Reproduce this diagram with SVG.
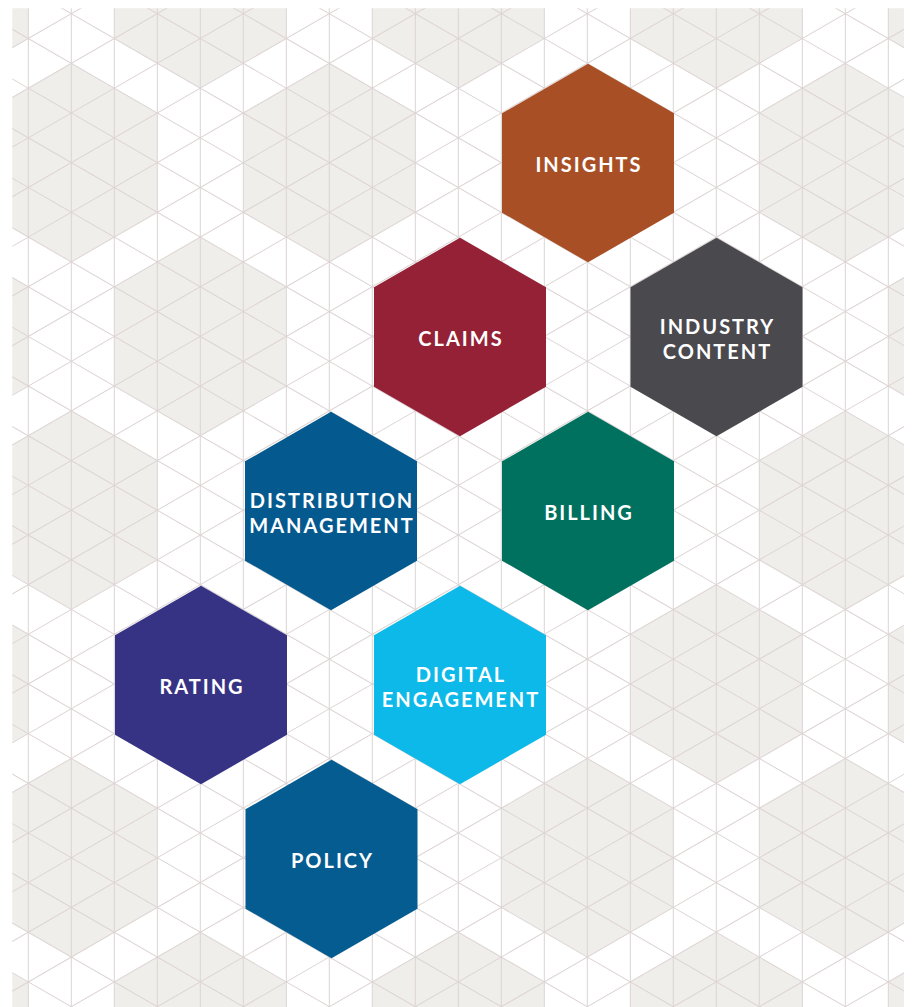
<svg xmlns="http://www.w3.org/2000/svg" xmlns:xlink="http://www.w3.org/1999/xlink" width="913" height="1007" viewBox="0 0 913 1007">
<style>
.bg{fill:#EFEEEA}
.grid{stroke:#DDD4D4;stroke-width:1;fill:none}
.lbl{font-family:Lato,"Open Sans","Liberation Sans",sans-serif;font-weight:700;font-size:20px;fill:#FFFFFF;text-anchor:middle;letter-spacing:2px}
</style>
<defs>
<path id="hex" d="M0-99.3L86-49.65V49.65L0 99.3L-86 49.65V-49.65Z"/>
<path id="l1" d="M0-1600V2600"/>
<g id="l2"><use href="#l1"/><use href="#l1" x="43"/></g>
<g id="l4"><use href="#l2"/><use href="#l2" x="86"/></g>
<g id="l8"><use href="#l4"/><use href="#l4" x="172"/></g>
<g id="l16"><use href="#l8"/><use href="#l8" x="344"/></g>
<g id="l32"><use href="#l16"/><use href="#l16" x="688"/></g>
<g id="l64"><use href="#l32"/><use href="#l32" x="1376"/></g>
<clipPath id="clip"><rect x="12.3" y="8.3" width="891.7" height="998.7"/></clipPath>
</defs>
<rect width="913" height="1007" fill="#FFFFFF"/>
<g id="background" clip-path="url(#clip)">
<g class="bg">
<use href="#hex" x="-57.7" y="-11.15"/>
<use href="#hex" x="200.3" y="-11.15"/>
<use href="#hex" x="458.3" y="-11.15"/>
<use href="#hex" x="716.3" y="-11.15"/>
<use href="#hex" x="974.3" y="-11.15"/>
<use href="#hex" x="71.3" y="162.63"/>
<use href="#hex" x="329.3" y="162.63"/>
<use href="#hex" x="845.3" y="162.63"/>
<use href="#hex" x="-57.7" y="336.41"/>
<use href="#hex" x="200.3" y="336.41"/>
<use href="#hex" x="974.3" y="336.41"/>
<use href="#hex" x="71.3" y="510.19"/>
<use href="#hex" x="845.3" y="510.19"/>
<use href="#hex" x="-57.7" y="683.97"/>
<use href="#hex" x="716.3" y="683.97"/>
<use href="#hex" x="974.3" y="683.97"/>
<use href="#hex" x="71.3" y="857.75"/>
<use href="#hex" x="587.3" y="857.75"/>
<use href="#hex" x="845.3" y="857.75"/>
<use href="#hex" x="-57.7" y="1031.53"/>
<use href="#hex" x="200.3" y="1031.53"/>
<use href="#hex" x="458.3" y="1031.53"/>
<use href="#hex" x="716.3" y="1031.53"/>
<use href="#hex" x="974.3" y="1031.53"/>
</g>
<g class="grid">
<use href="#l64" x="-1347.7"/>
<use href="#l64" x="-1347.7" transform="rotate(60 28.3 38.5)"/>
<use href="#l64" x="-1347.7" transform="rotate(-60 28.3 38.5)"/>
</g>
</g>
<g id="connectors"/>
<g id="insights"><use href="#hex" x="588" y="163" fill="#A84F25"/><text class="lbl" x="589" y="172">INSIGHTS</text></g>
<g id="claims"><use href="#hex" x="460" y="337" fill="#942135"/><text class="lbl" x="461" y="346">CLAIMS</text></g>
<g id="industry-content"><use href="#hex" x="716.5" y="337" fill="#4A494E"/><text class="lbl" x="717.5" y="334">INDUSTRY</text><text class="lbl" x="717.5" y="358.5">CONTENT</text></g>
<g id="distribution-management"><use href="#hex" x="331" y="511" fill="#045A8F"/><text class="lbl" x="332" y="508">DISTRIBUTION</text><text class="lbl" x="332" y="532.5">MANAGEMENT</text></g>
<g id="billing"><use href="#hex" x="588" y="511" fill="#00715F"/><text class="lbl" x="589" y="520">BILLING</text></g>
<g id="rating"><use href="#hex" x="201" y="685" fill="#373384"/><text class="lbl" x="202" y="694">RATING</text></g>
<g id="digital-engagement"><use href="#hex" x="460" y="685" fill="#0CB9E8"/><text class="lbl" x="461" y="682">DIGITAL</text><text class="lbl" x="461" y="706.5">ENGAGEMENT</text></g>
<g id="policy"><use href="#hex" x="331.5" y="859" fill="#045C90"/><text class="lbl" x="332.5" y="868">POLICY</text></g>
</svg>
